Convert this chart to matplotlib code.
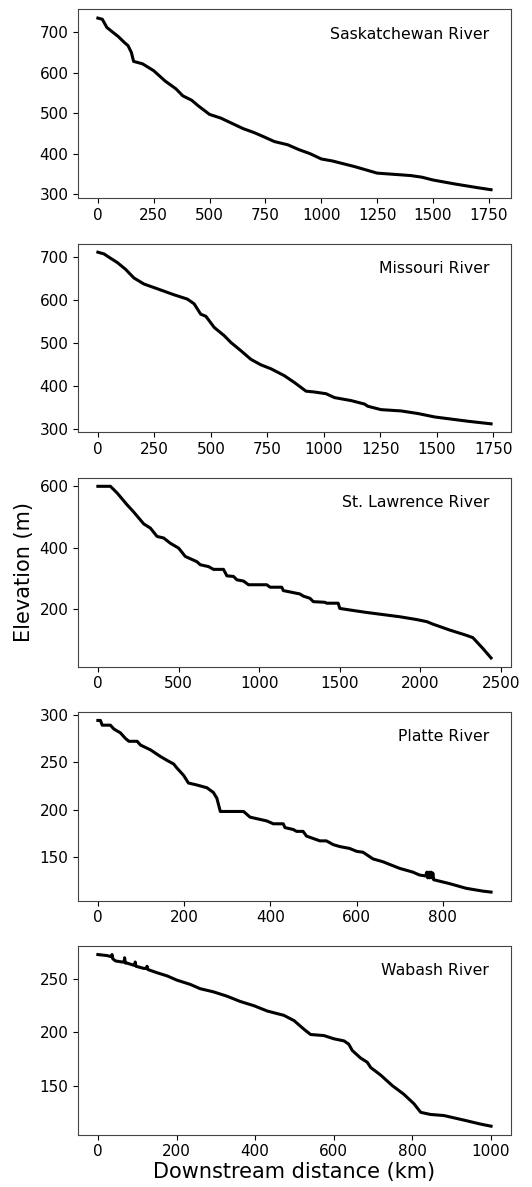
import matplotlib
matplotlib.use("Agg")
import matplotlib.pyplot as plt

# Saskatchewan River
sask_km = [0, 20, 40, 60, 90, 120, 135, 150, 160, 200, 250, 300, 350, 380, 420, 450, 500,
           550, 600, 650, 700, 750, 790, 850, 900, 950, 1000, 1050, 1100, 1150, 1200, 1250,
           1300, 1400, 1450, 1500, 1600, 1700, 1760]
sask_elev = [735, 732, 712, 703, 690, 674, 667, 650, 628, 622, 605, 580, 560, 543, 532, 518, 497,
             488, 475, 462, 452, 440, 430, 422, 410, 400, 387, 382, 375, 368, 360, 352,
             350, 346, 342, 335, 325, 316, 311]

# Missouri River
miss_km = [0, 27, 56, 86, 123, 145, 160, 204, 263, 337, 396, 426, 455, 478, 515, 559, 589,
           633, 677, 722, 766, 825, 870, 921, 958, 1010, 1047, 1121, 1180, 1194, 1253, 1342,
           1416, 1490, 1564, 1638, 1740]
miss_elev = [712, 708, 698, 688, 672, 660, 652, 638, 627, 613, 603, 592, 568, 563, 537, 518, 502,
             483, 463, 450, 441, 425, 409, 389, 387, 383, 374, 367, 359, 354, 346, 343,
             337, 329, 324, 319, 313]

# St. Lawrence River
stl_km = [0, 78, 120, 181, 223, 284, 326, 367, 408, 449, 501, 542, 614, 635, 686, 717, 779,
          800, 841, 862, 903, 934, 1047, 1068, 1140, 1150, 1253, 1274, 1315, 1336, 1408, 1418,
          1490, 1500, 1562, 1665, 1768, 1871, 1975, 2040, 2077, 2180, 2283, 2325, 2387, 2438]
stl_elev = [600, 600, 578, 540, 516, 478, 464, 437, 432, 415, 399, 372, 355, 345, 339, 330, 330,
            309, 307, 296, 292, 280, 280, 272, 272, 261, 250, 243, 236, 225, 223, 220,
            220, 203, 198, 190, 183, 176, 167, 160, 152, 133, 116, 108, 73, 42]

# Platte River
platte_km = [0, 6, 10, 29, 37, 52, 64, 72, 91, 99, 122, 145, 160, 176, 183, 199, 210, 229,
             253, 268, 276, 284, 338, 353, 392, 407, 430, 434, 453, 461, 476, 484, 515, 530,
             546, 561, 584, 600, 615, 638, 661, 700, 731, 746, 760, 763, 765, 768, 770, 773,
             775, 777, 779, 815, 854, 893, 912]
platte_elev = [294, 294, 289, 289, 285, 281, 275, 272, 272, 268, 263, 256, 252, 248, 244, 236,
               228, 226, 223, 218, 212, 198, 198, 192, 188, 185, 185, 181, 179, 177, 177, 172,
               167, 167, 163, 161, 159, 156, 155, 148, 145, 138, 134, 131, 130, 134, 128, 134,
               128, 134, 128, 133, 126, 122, 117, 114, 113]

# Wabash River
wab_km = [0, 24, 34, 36, 38, 45, 62, 67, 68, 70, 74, 91, 94, 95, 97, 117, 124, 125, 127, 150,
          176, 201, 235, 260, 294, 328, 362, 397, 431, 473, 499, 524, 541, 575, 600, 626, 638,
          647, 668, 685, 694, 719, 749, 778, 804, 821, 846, 880, 939, 973, 1000]
wab_elev = [273, 272, 271, 273, 269, 267, 266, 266, 270, 265, 265, 263, 263, 266, 262, 260, 260,
            262, 259, 256, 253, 249, 245, 241, 238, 234, 229, 225, 220, 216, 211, 203, 198,
            197, 194, 192, 189, 183, 176, 172, 167, 160, 150, 142, 133, 125, 123, 122, 117,
            114, 112]

rivers = [
    ("Saskatchewan River", sask_km, sask_elev),
    ("Missouri River", miss_km, miss_elev),
    ("St. Lawrence River", stl_km, stl_elev),
    ("Platte River", platte_km, platte_elev),
    ("Wabash River", wab_km, wab_elev),
]

fig, axes = plt.subplots(5, 1, figsize=(5.32, 11.87), dpi=100)
fig.subplots_adjust(left=0.147, right=0.96, top=0.992, bottom=0.044, hspace=0.24)

for ax, (name, km, elev) in zip(axes, rivers):
    ax.plot(km, elev, color="black", linewidth=2.2)
    ax.text(0.95, 0.87, name, transform=ax.transAxes, ha="right", va="center", fontsize=11.3)
    ax.tick_params(labelsize=11)
    for s in ax.spines.values():
        s.set_color("#444444")

axes[1].set_yticks([300, 400, 500, 600, 700])
axes[2].set_ylabel("Elevation (m)", fontsize=15)
axes[-1].set_xlabel("Downstream distance (km)", fontsize=15, labelpad=2)

fig.savefig("out.png", dpi=100)
